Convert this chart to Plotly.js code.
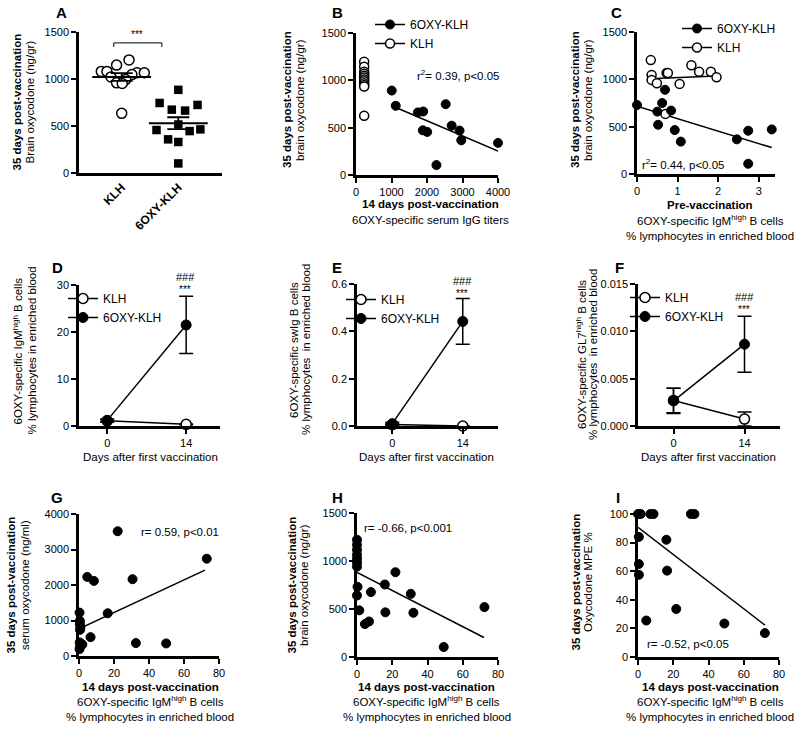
<!DOCTYPE html>
<html><head><meta charset="utf-8">
<script src="https://cdn.plot.ly/plotly-3.0.1.min.js"></script>
<style>html,body{margin:0;padding:0;background:#fff;} #chart{width:800px;height:730px;}</style>
</head><body><div id="chart"></div>
<script>
// ---------- DATA ----------
// Panel A: brain oxycodone (ng/gr), 35 days post-vaccination
const groupsA = ['KLH', '6OXY-KLH'];
const klhBrain = [1203, 1148, 1081, 1081, 1067, 1067, 1047, 1022, 994, 959, 952, 635];
const oxyBrain = [885, 745, 674, 664, 724, 516, 457, 446, 464, 358, 330, 102];
// Panel B: 6OXY-specific serum IgG titers vs brain oxycodone
const oxyTiter = [1007, 1119, 1744, 1893, 2527, 1883, 2005, 2266, 2695, 2918, 2965, 4000];
const oxyBrainB = [892, 731, 661, 671, 748, 472, 455, 105, 521, 469, 367, 339];
const klhTiter = [230, 230, 230, 230, 230, 230, 230, 230, 230, 230, 230, 230];
const klhBrainB = [1196, 1143, 1091, 1070, 1049, 1030, 1010, 990, 968, 950, 935, 625];
const fitBx = [1007, 4000], fitBy = [731, 252];
// Panel C: pre-vaccination IgM-high B cells vs brain oxycodone
const oxyPre = [0.69, 0, 0.50, 0.84, 0.62, 3.32, 2.74, 2.74, 0.52, 0.93, 2.46, 1.08];
const oxyBrainC = [890, 729, 659, 670, 750, 471, 457, 108, 520, 464, 366, 342];
const klhPre = [0.34, 1.34, 1.53, 1.82, 0.73, 0.76, 0.36, 1.96, 0.36, 0.49, 1.05, 0.70];
const klhBrainC = [1203, 1148, 1081, 1081, 1067, 1067, 1047, 1022, 994, 959, 952, 635];
const fitCoxyX = [0, 3.32], fitCoxyY = [715, 279];
const fitCklhX = [0.30, 1.96], fitCklhY = [1005, 1036];
// Panels D-F: days after first vaccination
const days = [0, 14];
const klhD = [1.1, 0.35], klhDerr = [0.25, 0.1];
const oxyD = [1.2, 21.5], oxyDerr = [0.3, 6.1];
const klhE = [0.006, 0.0], klhEerr = [0.003, 0.001];
const oxyE = [0.01, 0.442], oxyEerr = [0.006, 0.097];
const klhF = [0.0027, 0.00073], klhFerr = [0.0013, 0.00074];
const oxyF = [0.00266, 0.00864], oxyFerr = [0.00133, 0.00295];
// Panel G: IgM-high B cells (14 d) vs serum oxycodone (ng/ml)
const gX = [22.1, 73, 4.7, 8.5, 30.6, 16.4, 6.6, 32.5, 49.8, 0.3, 0.5, 0.5, 0.8, 0.6, 0.4, 1.0, 0.3, 1.9, 0.5];
const gY = [3515, 2741, 2228, 2116, 2163, 1203, 531, 364, 354, 1222, 988, 895, 803, 736, 383, 289, 196, 326, 250];
const fitGx = [0, 72], fitGy = [765, 2420];
// Panel H: IgM-high B cells (14 d) vs brain oxycodone
const hX = [0, 0, 0, 0, 0, 0, 0, 0.3, 0, 1.3, 4.5, 6.8, 7.9, 15.8, 16.1, 21.8, 30.5, 32, 49.2, 72.3];
const hY = [1221, 1169, 1117, 1066, 1024, 983, 941, 731, 641, 486, 343, 370, 676, 755, 465, 883, 658, 461, 104, 520];
const fitHx = [0, 72], fitHy = [880, 203];
// Panel I: IgM-high B cells (14 d) vs oxycodone MPE %
const iX = [0, 1.5, 7, 8.8, 30, 32, 0.5, 0.5, 0.5, 16.1, 16.5, 21.7, 4.7, 49, 72];
const iY = [100, 100, 100, 100, 100, 100, 84, 65, 57.5, 82, 60.4, 33.6, 25.5, 23.4, 16.7];
const fitIx = [0, 72], fitIy = [90.7, 22.3];

// ---------- LAYOUT HELPERS ----------
const FONT = 'Liberation Sans, Arial, sans-serif';
const W = 800, H = 730;
const px = v => v / W;
const py = v => 1 - v / H;
const klhJitter = [0.13, -0.09, -0.36, -0.26, 0.27, 0.40, 0.18, -0.19, 0.07, -0.09, 0.01, 0];
const oxyJitter = [0, -0.33, -0.115, 0.12, 0.34, 0, -0.385, 0.2, 0.39, -0.18, 0, 0];
const mean = a => a.reduce((s, v) => s + v, 0) / a.length;
const sem = a => { const m = mean(a); return Math.sqrt(a.reduce((s, v) => s + (v - m) * (v - m), 0) / (a.length - 1)) / Math.sqrt(a.length); };

function axis(l, r, extra) {
  return Object.assign({
    domain: [l, r], showline: true, linewidth: 2.5, linecolor: '#000',
    ticks: 'outside', ticklen: 5, tickwidth: 2, tickcolor: '#000',
    showgrid: false, zeroline: false, fixedrange: true,
    tickfont: {size: 11, color: '#000', family: FONT}
  }, extra);
}
function xdom(a, b) { return [px(a + 1), px(b)]; }
function ydom(t, b) { return [py(b - 1), py(t)]; }

const openC = (size) => ({symbol: 'circle', size: size, color: '#fff', line: {color: '#000', width: 1.5}});
const solidC = (size) => ({symbol: 'circle', size: size, color: '#000', line: {color: '#000', width: 1}});
const fitLine = {color: '#000', width: 1.5};

const traces = [];
// Panel A
traces.push({type: 'scatter', mode: 'markers', x: klhJitter.map(d => 1 + d), y: klhBrain, xaxis: 'x', yaxis: 'y',
  marker: openC(10), showlegend: false, cliponaxis: false, hoverinfo: 'y'});
traces.push({type: 'scatter', mode: 'markers', x: oxyJitter.map(d => 2 + d), y: oxyBrain, xaxis: 'x', yaxis: 'y',
  marker: {symbol: 'square', size: 8.5, color: '#000'}, showlegend: false, cliponaxis: false, hoverinfo: 'y'});
traces.push({type: 'scatter', mode: 'markers', x: [1, 2], y: [mean(klhBrain), mean(oxyBrain)], xaxis: 'x', yaxis: 'y',
  marker: {symbol: 'line-ew', size: 42, line: {color: '#000', width: 2}},
  error_y: {type: 'data', array: [sem(klhBrain), sem(oxyBrain)], color: '#000', thickness: 1.8, width: 11},
  showlegend: false, cliponaxis: false, hoverinfo: 'y'});
// Panel B
traces.push({type: 'scatter', mode: 'lines', x: fitBx, y: fitBy, xaxis: 'x2', yaxis: 'y2', line: fitLine, showlegend: false, hoverinfo: 'skip'});
traces.push({type: 'scatter', mode: 'markers', x: oxyTiter, y: oxyBrainB, xaxis: 'x2', yaxis: 'y2', marker: solidC(9), showlegend: false, cliponaxis: false});
traces.push({type: 'scatter', mode: 'markers', x: klhTiter, y: klhBrainB, xaxis: 'x2', yaxis: 'y2', marker: openC(9), showlegend: false, cliponaxis: false});
traces.push({type: 'scatter', mode: 'lines+markers', x: [null], y: [null], xaxis: 'x2', yaxis: 'y2', name: '6OXY-KLH', legend: 'legend', marker: solidC(9), line: {color: '#000', width: 1.5}});
traces.push({type: 'scatter', mode: 'lines+markers', x: [null], y: [null], xaxis: 'x2', yaxis: 'y2', name: 'KLH', legend: 'legend', marker: openC(9), line: {color: '#000', width: 1.5}});
// Panel C
traces.push({type: 'scatter', mode: 'lines', x: fitCoxyX, y: fitCoxyY, xaxis: 'x3', yaxis: 'y3', line: fitLine, showlegend: false, hoverinfo: 'skip'});
traces.push({type: 'scatter', mode: 'lines', x: fitCklhX, y: fitCklhY, xaxis: 'x3', yaxis: 'y3', line: fitLine, showlegend: false, hoverinfo: 'skip'});
traces.push({type: 'scatter', mode: 'markers', x: klhPre, y: klhBrainC, xaxis: 'x3', yaxis: 'y3', marker: openC(9), showlegend: false, cliponaxis: false});
traces.push({type: 'scatter', mode: 'markers', x: oxyPre, y: oxyBrainC, xaxis: 'x3', yaxis: 'y3', marker: solidC(9), showlegend: false, cliponaxis: false});
traces.push({type: 'scatter', mode: 'lines+markers', x: [null], y: [null], xaxis: 'x3', yaxis: 'y3', name: '6OXY-KLH', legend: 'legend2', marker: solidC(9), line: {color: '#000', width: 1.5}});
traces.push({type: 'scatter', mode: 'lines+markers', x: [null], y: [null], xaxis: 'x3', yaxis: 'y3', name: 'KLH', legend: 'legend2', marker: openC(9), line: {color: '#000', width: 1.5}});
// Panels D, E, F
function timePanel(xa, ya, lg, klh, klhErr, oxy, oxyErr) {
  traces.push({type: 'scatter', mode: 'lines+markers', x: days, y: klh, xaxis: xa, yaxis: ya, name: 'KLH', legend: lg,
    marker: openC(10), line: {color: '#000', width: 1.5},
    error_y: {type: 'data', array: klhErr, color: '#000', thickness: 1.5, width: 7}, cliponaxis: false});
  traces.push({type: 'scatter', mode: 'lines+markers', x: days, y: oxy, xaxis: xa, yaxis: ya, name: '6OXY-KLH', legend: lg,
    marker: solidC(10), line: {color: '#000', width: 1.5},
    error_y: {type: 'data', array: oxyErr, color: '#000', thickness: 1.5, width: 7}, cliponaxis: false});
}
timePanel('x4', 'y4', 'legend3', klhD, klhDerr, oxyD, oxyDerr);
timePanel('x5', 'y5', 'legend4', klhE, klhEerr, oxyE, oxyEerr);
timePanel('x6', 'y6', 'legend5', klhF, klhFerr, oxyF, oxyFerr);
// Panels G, H, I
function corrPanel(xa, ya, fx, fy, x, y) {
  traces.push({type: 'scatter', mode: 'lines', x: fx, y: fy, xaxis: xa, yaxis: ya, line: fitLine, showlegend: false, hoverinfo: 'skip'});
  traces.push({type: 'scatter', mode: 'markers', x: x, y: y, xaxis: xa, yaxis: ya, marker: solidC(9), showlegend: false, cliponaxis: false});
}
corrPanel('x7', 'y7', fitGx, fitGy, gX, gY);
corrPanel('x8', 'y8', fitHx, fitHy, hX, hY);
corrPanel('x9', 'y9', fitIx, fitIy, iX, iY);

// ---------- AXES ----------
const layout = {
  width: W, height: H, margin: {l: 0, r: 0, t: 0, b: 0},
  paper_bgcolor: '#fff', plot_bgcolor: '#fff',
  font: {family: FONT, color: '#000', size: 11},
  hovermode: 'closest',
  xaxis: axis(...xdom(78, 222), {anchor: 'y', range: [0.246, 2.772], tickvals: [1, 2],
    ticktext: groupsA.map(g => '<b>' + g + '</b>'), tickangle: -45, ticks: '', tickfont: {size: 12, color: '#000', family: FONT}}),
  yaxis: axis(...ydom(32, 174), {anchor: 'x', range: [0, 1500], dtick: 500}),
  xaxis2: axis(...xdom(355, 498), {anchor: 'y2', range: [0, 4000], dtick: 1000}),
  yaxis2: axis(...ydom(33, 176), {anchor: 'x2', range: [0, 1500], dtick: 500}),
  xaxis3: axis(...xdom(636, 775), {anchor: 'y3', range: [0, 3.4], dtick: 1}),
  yaxis3: axis(...ydom(32, 175), {anchor: 'x3', range: [0, 1500], dtick: 500}),
  xaxis4: axis(...xdom(78, 220), {anchor: 'y4', range: [-5, 20], tickvals: days}),
  yaxis4: axis(...ydom(285, 427), {anchor: 'x4', range: [0, 30], dtick: 10}),
  xaxis5: axis(...xdom(356, 498), {anchor: 'y5', range: [-7, 21], tickvals: days}),
  yaxis5: axis(...ydom(284, 427), {anchor: 'x5', range: [0, 0.6], dtick: 0.2, tickformat: '.1f'}),
  xaxis6: axis(...xdom(637, 780), {anchor: 'y6', range: [-7, 21], tickvals: days}),
  yaxis6: axis(...ydom(284, 427), {anchor: 'x6', range: [0, 0.015], dtick: 0.005, tickformat: '.3f'}),
  xaxis7: axis(...xdom(78, 219), {anchor: 'y7', range: [0, 80], dtick: 20}),
  yaxis7: axis(...ydom(514, 657), {anchor: 'x7', range: [0, 4000], dtick: 1000}),
  xaxis8: axis(...xdom(356, 498), {anchor: 'y8', range: [0, 80], dtick: 20}),
  yaxis8: axis(...ydom(513, 658), {anchor: 'x8', range: [0, 1500], dtick: 500}),
  xaxis9: axis(...xdom(637, 779), {anchor: 'y9', range: [0, 80], dtick: 20}),
  yaxis9: axis(...ydom(514, 658), {anchor: 'x9', range: [0, 100], dtick: 20}),
};

// ---------- LEGENDS ----------
function leg(x, y) {
  return {x: px(x), y: py(y), xanchor: 'left', yanchor: 'top', bgcolor: 'rgba(0,0,0,0)',
    font: {size: 12, family: FONT, color: '#000'}, itemclick: false, itemdoubleclick: false, tracegroupgap: 0};
}
layout.legend = leg(370, 10);
layout.legend2 = leg(677, 14);
layout.legend3 = leg(63, 284);
layout.legend4 = leg(341, 285);
layout.legend5 = leg(625, 283);

// ---------- ANNOTATIONS ----------
const ann = [];
function txt(x, y, text, size, opts) {
  ann.push(Object.assign({xref: 'paper', yref: 'paper', x: px(x), y: py(y), text: text, showarrow: false,
    xanchor: 'center', yanchor: 'middle', font: {size: size, family: FONT, color: '#000'}}, opts || {}));
}
const TS = 11.5;
const rot = {textangle: -90};
// panel letters
[['A', 61, 13], ['B', 337, 13], ['C', 616, 13], ['D', 58, 267], ['E', 337, 267], ['F', 619, 267],
 ['G', 57, 497], ['H', 337, 497], ['I', 618, 497]].forEach(p => txt(p[1], p[2], '<b>' + p[0] + '</b>', 15));
// y-axis titles (one annotation per line)
const bold35 = '<b>35 days post-vaccination</b>';
txt(16.5, 102, bold35, TS, rot);  txt(29.5, 102, 'Brain oxycodone (ng/gr)', TS, rot);
txt(287, 100, bold35, TS, rot);   txt(300, 100, 'brain oxycodone (ng/gr)', TS, rot);
txt(575, 100, bold35, TS, rot);   txt(588, 100, 'brain oxycodone (ng/gr)', TS, rot);
txt(17.5, 351, '6OXY-specific IgM<sup>high</sup> B cells', TS, rot); txt(31.5, 351, '% lymphocytes in enriched blood', TS, rot);
txt(294, 350, '6OXY-specific swIg B cells', TS, rot); txt(306, 350, '% lymphocytes  in enriched blood', TS, rot);
txt(581, 355, '6OXY-specific GL7<sup>high</sup> B cells', TS, rot); txt(593, 355, '% lymphocytes  in enriched blood', TS, rot);
txt(10.5, 585, bold35, TS, rot);  txt(25, 585, 'serum oxycodone (ng/ml)', TS, rot);
txt(291.5, 585, bold35, TS, rot); txt(304, 585, 'brain oxycodone (ng/gr)', TS, rot);
txt(575.5, 582, bold35, TS, rot); txt(588, 582, 'Oxycodone MPE %', TS, rot);
// x-axis titles (one annotation per line)
const igm1 = '6OXY-specific IgM<sup>high</sup> B cells', igm2 = '% lymphocytes in enriched blood';
const bold14 = '<b>14 days post-vaccination</b>';
txt(430, 204, bold14, TS); txt(430, 220, '6OXY-specific serum IgG titers', TS);
txt(710, 205, '<b>Pre-vaccination</b>', TS); txt(710, 220, igm1, TS); txt(710, 236, igm2, TS);
txt(150, 457, 'Days after first vaccination', TS);
txt(427, 457, 'Days after first vaccination', TS);
txt(708, 457, 'Days after first vaccination', TS);
[150, 427, 710].forEach(x => { txt(x, 687, bold14, TS); txt(x, 701, igm1, TS); txt(x, 717, igm2, TS); });
// statistics
txt(458, 75, 'r<sup>2</sup>= 0.39, p&lt;0.05', TS);
txt(683, 164, 'r<sup>2</sup>= 0.44, p&lt;0.05', TS);
txt(180, 532, 'r= 0.59, p&lt;0.01', TS);
txt(408, 528, 'r= -0.66, p&lt;0.001', TS);
txt(688, 644, 'r= -0.52, p&lt;0.05', TS);
// significance marks
txt(137, 35, '***', 10);
txt(185, 277, '###', 11); txt(185, 289, '***', 10);
txt(462, 281, '###', 11); txt(462, 293, '***', 10);
txt(744, 297, '###', 11); txt(744, 309, '***', 10);
layout.annotations = ann;

// bracket in panel A
layout.shapes = [
  {type: 'line', xref: 'x', yref: 'y', x0: 0.86, x1: 1.71, y0: 1384, y1: 1384, line: {color: '#000', width: 1}},
  {type: 'line', xref: 'x', yref: 'y', x0: 0.86, x1: 0.86, y0: 1384, y1: 1341, line: {color: '#000', width: 1}},
  {type: 'line', xref: 'x', yref: 'y', x0: 1.71, x1: 1.71, y0: 1384, y1: 1341, line: {color: '#000', width: 1}}
];

Plotly.newPlot('chart', traces, layout, {displayModeBar: false});
</script>
</body></html>
